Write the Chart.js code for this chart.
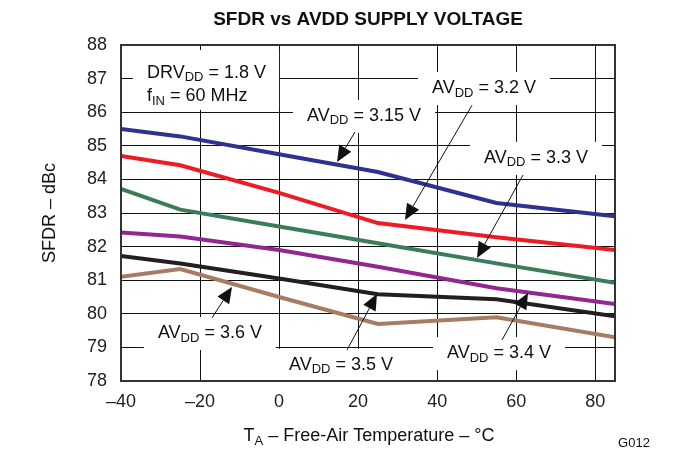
<!DOCTYPE html>
<html>
<head>
<meta charset="utf-8">
<script src="https://cdn.jsdelivr.net/npm/chart.js@4.4.1/dist/chart.umd.min.js"></script>
<style>
  html, body { margin: 0; padding: 0; background: #fff; }
  #wrap { width: 684px; height: 451px; position: relative; }
</style>
</head>
<body>
<div id="wrap"><canvas id="chart1"></canvas></div>
<script>
// temperatures (°C) where the curves were measured
var temps = [-40, -25, 0, 25, 55, 85];
var avdd315 = [85.5, 85.28, 84.75, 84.22, 83.3, 82.9];
var avdd32  = [84.7, 84.42, 83.6, 82.7, 82.28, 81.9];
var avdd33  = [83.72, 83.1, 82.6, 82.1, 81.5, 80.92];
var avdd34  = [82.42, 82.3, 81.9, 81.4, 80.76, 80.29];
var avdd35  = [81.72, 81.5, 81.05, 80.58, 80.43, 79.93];
var avdd36  = [81.1, 81.33, 80.5, 79.7, 79.9, 79.3];
var xTicks = [-40, -20, 0, 20, 40, 60, 80];
var yTicks = [78, 79, 80, 81, 82, 83, 84, 85, 86, 87, 88];

var FONT = "'Liberation Sans', Arial, Helvetica, sans-serif";

function pairs(vals) {
  return vals.map(function (v, i) { return { x: temps[i], y: v }; });
}

// labels placed in data units: [text parts], centre x, centre y
var labels = [
  { parts: [['AV'], ['DD', 1], [' = 3.15 V']], x: 21.5, y: 85.89 },
  { parts: [['AV'], ['DD', 1], [' = 3.2 V']], x: 51.85, y: 86.72 },
  { parts: [['AV'], ['DD', 1], [' = 3.3 V']], x: 65.0, y: 84.64 },
  { parts: [['AV'], ['DD', 1], [' = 3.6 V']], x: -17.5, y: 79.43 },
  { parts: [['AV'], ['DD', 1], [' = 3.5 V']], x: 15.67, y: 78.48 },
  { parts: [['AV'], ['DD', 1], [' = 3.4 V']], x: 55.65, y: 78.83 }
];
// arrows: from (x1,y1) to tip (x2,y2), data units
var arrows = [
  [19.21, 85.41, 14.66, 84.52],
  [48.82, 86.21, 31.86, 82.79],
  [61.72, 84.13, 50.08, 81.66],
  [-16.97, 79.88, -11.91, 80.80],
  [17.19, 78.92, 24.78, 80.59],
  [56.41, 79.22, 62.99, 80.62]
];

function richWidth(ctx, parts) {
  var w = 0;
  parts.forEach(function (p) {
    ctx.font = (p[1] ? '13px ' : '18px ') + FONT;
    w += ctx.measureText(p[0]).width;
  });
  return w;
}

function drawRich(ctx, parts, x, y) {
  // x = left edge, y = middle line of main text
  ctx.textBaseline = 'middle';
  ctx.textAlign = 'left';
  parts.forEach(function (p) {
    ctx.font = (p[1] ? '13px ' : '18px ') + FONT;
    ctx.fillText(p[0], x, p[1] ? y + 5 : y);
    x += ctx.measureText(p[0]).width;
  });
}

var decor = {
  id: 'decor',
  beforeDatasetsDraw: function (chart) {
    var ctx = chart.ctx, xs = chart.scales.x, ys = chart.scales.y;
    ctx.save();
    // DRVdd / fIN box
    var bx1 = xs.getPixelForValue(-36.96), bx2 = xs.getPixelForValue(0.0);
    var by1 = ys.getPixelForValue(87.85), by2 = ys.getPixelForValue(86.07);
    ctx.fillStyle = '#fff';
    ctx.fillRect(bx1, by1, bx2 - bx1, by2 - by1);
    ctx.fillStyle = '#111';
    var lx = xs.getPixelForValue(-33.42);
    drawRich(ctx, [['DRV'], ['DD', 1], [' = 1.8 V']], lx, ys.getPixelForValue(87.17));
    drawRich(ctx, [['f'], ['IN', 1], [' = 60 MHz']], lx, ys.getPixelForValue(86.48));

    labels.forEach(function (l) {
      var w = richWidth(ctx, l.parts);
      var cx = xs.getPixelForValue(l.x), cy = ys.getPixelForValue(l.y);
      ctx.fillStyle = '#fff';
      ctx.fillRect(cx - w / 2 - 14, cy - 16, w + 28, 33);
      ctx.fillStyle = '#111';
      drawRich(ctx, l.parts, cx - w / 2, cy);
    });
    ctx.restore();
  },
  afterDatasetsDraw: function (chart) {
    var ctx = chart.ctx, xs = chart.scales.x, ys = chart.scales.y, a = chart.chartArea;
    ctx.save();
    ctx.strokeStyle = '#111';
    ctx.fillStyle = '#111';
    ctx.lineWidth = 1;
    arrows.forEach(function (ar) {
      var x1 = xs.getPixelForValue(ar[0]), y1 = ys.getPixelForValue(ar[1]);
      var x2 = xs.getPixelForValue(ar[2]), y2 = ys.getPixelForValue(ar[3]);
      var ang = Math.atan2(y2 - y1, x2 - x1);
      var len = 16, hw = 7;
      var bx = x2 - len * Math.cos(ang), by = y2 - len * Math.sin(ang);
      ctx.beginPath();
      ctx.moveTo(x1, y1);
      ctx.lineTo(bx, by);
      ctx.stroke();
      ctx.beginPath();
      ctx.moveTo(x2, y2);
      ctx.lineTo(bx + hw * Math.sin(ang), by - hw * Math.cos(ang));
      ctx.lineTo(bx - hw * Math.sin(ang), by + hw * Math.cos(ang));
      ctx.closePath();
      ctx.fill();
    });
    // frame
    ctx.strokeStyle = '#333';
    ctx.lineWidth = 2;
    ctx.strokeRect(a.left, a.top, a.right - a.left, a.bottom - a.top);
    ctx.restore();
  },
  afterDraw: function (chart) {
    var ctx = chart.ctx, a = chart.chartArea;
    ctx.save();
    ctx.fillStyle = '#111';
    ctx.textAlign = 'center';
    ctx.textBaseline = 'middle';
    ctx.font = 'bold 19px ' + FONT;
    ctx.fillText('SFDR vs AVDD SUPPLY VOLTAGE', 368, 20);

    ctx.save();
    ctx.translate(50, 213);
    ctx.rotate(-Math.PI / 2);
    ctx.font = '18px ' + FONT;
    ctx.fillText('SFDR \u2013 dBc', 0, 0);
    ctx.restore();

    var xt = [['T'], ['A', 1], [' \u2013 Free-Air Temperature \u2013 \u00b0C']];
    var w = richWidth(ctx, xt);
    drawRich(ctx, xt, 369 - w / 2, 436);

    ctx.font = '13px ' + FONT;
    ctx.textAlign = 'center';
    ctx.fillText('G012', 634, 443);
    ctx.restore();
  }
};

function ds(label, vals, color) {
  return {
    label: label,
    data: pairs(vals),
    borderColor: color,
    borderWidth: 4,
    pointRadius: 0,
    tension: 0,
    fill: false
  };
}

var ctx = document.getElementById('chart1');
var myChart = new Chart(ctx, {
  type: 'line',
  data: {
    datasets: [
      ds('AVDD = 3.15 V', avdd315, '#2e3192'),
      ds('AVDD = 3.2 V', avdd32, '#ed1c24'),
      ds('AVDD = 3.3 V', avdd33, '#3b7d5b'),
      ds('AVDD = 3.4 V', avdd34, '#92278f'),
      ds('AVDD = 3.5 V', avdd35, '#231f20'),
      ds('AVDD = 3.6 V', avdd36, '#a67c63')
    ]
  },
  options: {
    responsive: true,
    maintainAspectRatio: false,
    animation: false,
    layout: { padding: { top: 45, right: 69, bottom: 0, left: 0 } },
    plugins: {
      legend: { display: false },
      title: { display: false },
      tooltip: { enabled: false }
    },
    scales: {
      x: {
        type: 'linear',
        min: -40,
        max: 85,
        afterBuildTicks: function (s) { s.ticks = xTicks.map(function (v) { return { value: v }; }); },
        afterFit: function (s) { s.height = 70; },
        grid: { color: '#111', lineWidth: 1, drawTicks: false },
        border: { display: false },
        ticks: {
          padding: 10,
          color: '#222',
          font: { family: FONT, size: 18 },
          maxRotation: 0,
          callback: function (v) { return String(v).replace('-', '\u2013'); }
        }
      },
      y: {
        min: 78,
        max: 88,
        afterBuildTicks: function (s) { s.ticks = yTicks.map(function (v) { return { value: v }; }); },
        afterFit: function (s) { s.width = 121; },
        grid: { color: '#111', lineWidth: 1, drawTicks: false },
        border: { display: false },
        ticks: {
          padding: 14,
          color: '#222',
          font: { family: FONT, size: 18 }
        }
      }
    }
  },
  plugins: [decor]
});
</script>
</body>
</html>
